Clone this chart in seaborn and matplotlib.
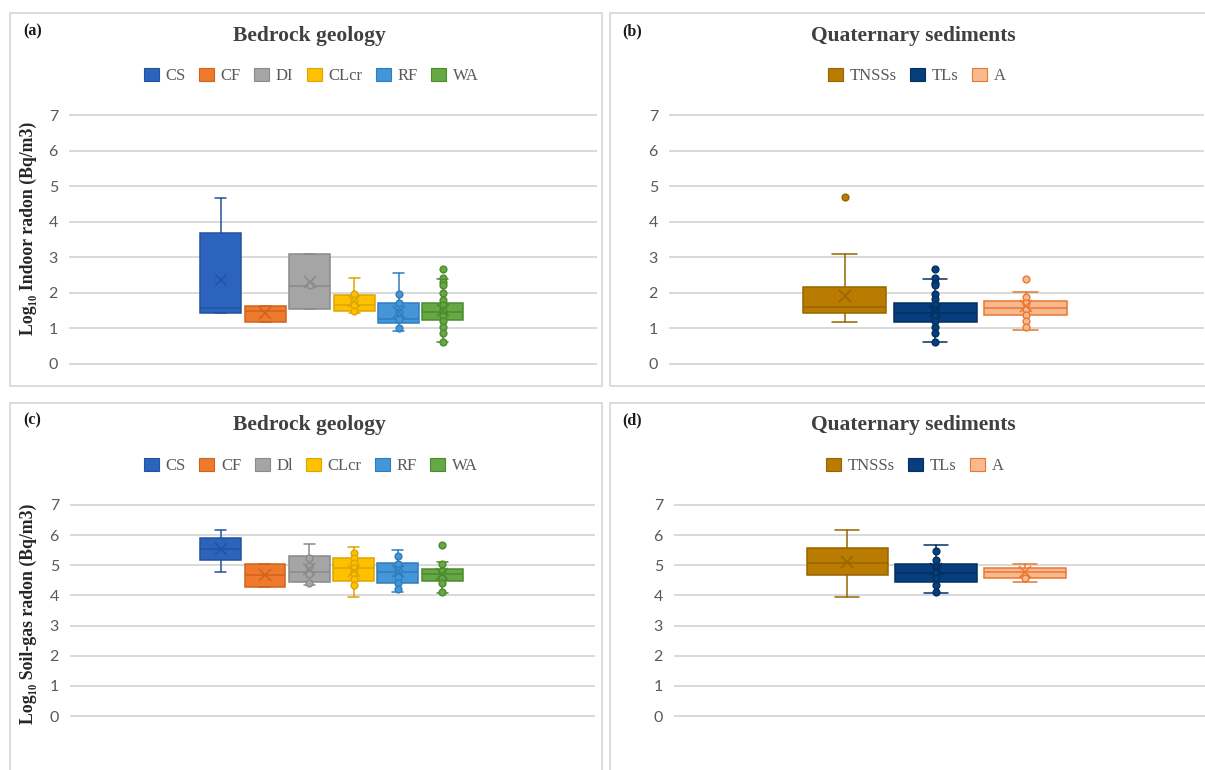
import matplotlib
matplotlib.use("Agg")
import matplotlib.pyplot as plt
from matplotlib.patches import Patch, Rectangle
import seaborn as sns

# ---- Bedrock geology: indoor radon (log10 Bq/m3) ----
bedrock_cats_a = ["CS", "CF", "DI", "CLcr", "RF", "WA"]
indoor_whislo = [1.42, 1.18, 1.55, 1.44, 0.94, 0.62]
indoor_q1 = [1.44, 1.18, 1.55, 1.48, 1.16, 1.24]
indoor_med = [1.58, 1.49, 2.20, 1.67, 1.27, 1.46]
indoor_q3 = [3.69, 1.63, 3.10, 1.93, 1.72, 1.70]
indoor_whishi = [4.68, 1.63, 3.10, 2.43, 2.56, 2.39]
indoor_mean = [2.37, 1.44, 2.31, 1.77, 1.46, 1.53]
indoor_points = [
    [], [], [2.22],
    [1.97, 1.81, 1.67, 1.48],
    [1.98, 1.71, 1.47, 1.26, 1.02],
    [2.42, 2.30, 2.23, 2.00, 1.81, 1.67, 1.52, 1.35, 1.20, 1.04, 0.87, 0.62],
]
indoor_outliers = [[], [], [], [], [], [2.68]]

# ---- Quaternary sediments: indoor radon ----
sediment_cats = ["TNSSs", "TLs", "A"]
sed_indoor_whislo = [1.18, 0.63, 0.96]
sed_indoor_q1 = [1.44, 1.19, 1.37]
sed_indoor_med = [1.61, 1.42, 1.56]
sed_indoor_q3 = [2.17, 1.70, 1.76]
sed_indoor_whishi = [3.10, 2.39, 2.02]
sed_indoor_mean = [1.91, 1.50, 1.63]
sed_indoor_points = [
    [],
    [2.42, 2.28, 2.22, 1.98, 1.84, 1.67, 1.53, 1.38, 1.21, 1.04, 0.87, 0.63],
    [1.88, 1.72, 1.55, 1.38, 1.21, 1.04],
]
sed_indoor_outliers = [[4.70], [2.68], [2.40]]

# ---- Bedrock geology: soil-gas radon ----
bedrock_cats_c = ["CS", "CF", "Dl", "CLcr", "RF", "WA"]
soil_whislo = [4.79, 4.29, 4.35, 3.96, 4.12, 4.07]
soil_q1 = [5.19, 4.29, 4.45, 4.48, 4.40, 4.47]
soil_med = [5.54, 4.67, 4.78, 4.90, 4.76, 4.70]
soil_q3 = [5.89, 5.05, 5.32, 5.25, 5.08, 4.89]
soil_whishi = [6.16, 5.05, 5.69, 5.60, 5.52, 5.10]
soil_mean = [5.54, 4.67, 4.88, 4.82, 4.80, 4.70]
soil_points = [
    [], [],
    [5.23, 4.98, 4.70, 4.42],
    [5.41, 5.25, 5.08, 4.90, 4.73, 4.54, 4.35],
    [5.31, 5.05, 4.84, 4.62, 4.40, 4.21],
    [5.03, 4.81, 4.59, 4.40, 4.12],
]
soil_outliers = [[], [], [], [], [], [5.66]]

# ---- Quaternary sediments: soil-gas radon ----
sed_soil_whislo = [3.96, 4.09, 4.46]
sed_soil_q1 = [4.67, 4.44, 4.57]
sed_soil_med = [5.07, 4.74, 4.76]
sed_soil_q3 = [5.58, 5.05, 4.91]
sed_soil_whishi = [6.16, 5.66, 5.05]
sed_soil_mean = [5.11, 4.87, 4.79]
sed_soil_points = [[], [5.47, 5.16, 4.95, 4.76, 4.57, 4.35, 4.11], [4.57]]
sed_soil_outliers = [[], [], []]

y_ticks = [0, 1, 2, 3, 4, 5, 6, 7]

bedrock_fill = ["#2C63BC", "#EE7A2E", "#A5A5A5", "#FFC000", "#4596D6", "#66A844"]
bedrock_edge = ["#23529F", "#CF631D", "#8A8A8A", "#DDA500", "#2F7DBE", "#4D8A2E"]
sediment_fill = ["#B97C00", "#063E7E", "#F8B98E"]
sediment_edge = ["#966400", "#03305F", "#EA7731"]

sns.set_theme(style="white")
plt.rcParams["font.family"] = ["Lato", "DejaVu Sans"]
SERIF = ["Liberation Serif", "DejaVu Serif"]
GRID = "#D9D9D9"

W, H = 1205, 770
fig = plt.figure(figsize=(W / 100, H / 100), dpi=100)
fig.patch.set_facecolor("white")


def fx(px):
    return px / W


def fy(py):
    return 1 - py / H


def add_axes(left, right, top, bottom):
    return fig.add_axes([fx(left), fy(bottom), (right - left) / W, (bottom - top) / H])


def frame(x0, y0, x1, y1):
    fig.add_artist(Rectangle((fx(x0), fy(y1)), (x1 - x0) / W, (y1 - y0) / H,
                             transform=fig.transFigure, fill=False,
                             edgecolor=GRID, lw=1.3, zorder=0))


def draw_boxes(ax, cats, whislo, q1, med, q3, whishi, mean, points, outliers,
               fills, edges, width, capw, xlim):
    for i, cat in enumerate(cats):
        stats = [dict(label=cat, whislo=whislo[i], q1=q1[i], med=med[i],
                      q3=q3[i], whishi=whishi[i], fliers=[])]
        lw = 1.1
        ax.bxp(stats, positions=[i], widths=width, capwidths=capw,
               patch_artist=True, showfliers=False, manage_ticks=False,
               boxprops=dict(facecolor=fills[i], edgecolor=edges[i], lw=lw),
               medianprops=dict(color=edges[i], lw=lw),
               whiskerprops=dict(color=edges[i], lw=lw),
               capprops=dict(color=edges[i], lw=lw), zorder=3)
        pts = points[i] + outliers[i]
        if pts:
            sns.scatterplot(x=[i] * len(pts), y=pts, ax=ax, color=fills[i],
                            edgecolor=edges[i], linewidth=1.0, s=24,
                            legend=False, zorder=4)
        ax.plot([i], [mean[i]], ls="none", marker="x", ms=8, mew=1.1,
                color=edges[i], zorder=5)
    ax.set_xlim(*xlim)
    ax.set_yticks(y_ticks)
    ax.set_xticks([])
    ax.set_axisbelow(True)
    ax.yaxis.grid(True, color=GRID, lw=1.4)
    ax.xaxis.grid(False)
    sns.despine(ax=ax, left=True, bottom=True)
    ax.tick_params(axis="y", length=0, pad=8, labelsize=11.5, labelcolor="#595959")
    ax.set_ylim(-0.03, 7.03)


def legend(ax, cats, fills, edges, cx, cy):
    handles = [Patch(facecolor=f, edgecolor=e, lw=0.8) for f, e in zip(fills, edges)]
    ax.legend(handles, cats, loc="center", bbox_to_anchor=(fx(cx), fy(cy)),
              bbox_transform=fig.transFigure, ncol=len(cats), frameon=False,
              prop=dict(family=SERIF, size=12), labelcolor="#595959",
              handlelength=0.9, handleheight=0.8, handletextpad=0.4,
              columnspacing=0.8, borderpad=0)


# panel frames
frame(10, 13, 602, 386)
frame(610, 13, 1220, 386)
frame(10, 403, 602, 790)
frame(610, 403, 1220, 790)

ax_a = add_axes(69, 597, 114, 365)
draw_boxes(ax_a, bedrock_cats_a, indoor_whislo, indoor_q1, indoor_med, indoor_q3,
           indoor_whishi, indoor_mean, indoor_points, indoor_outliers,
           bedrock_fill, bedrock_edge, 0.92, 0.25, (-3.42, 8.47))
legend(ax_a, bedrock_cats_a, bedrock_fill, bedrock_edge, 311, 76)

ax_b = add_axes(669, 1204, 114, 365)
draw_boxes(ax_b, sediment_cats, sed_indoor_whislo, sed_indoor_q1, sed_indoor_med,
           sed_indoor_q3, sed_indoor_whishi, sed_indoor_mean, sed_indoor_points,
           sed_indoor_outliers, sediment_fill, sediment_edge, 0.92, 0.27,
           (-1.94, 3.97))
legend(ax_b, sediment_cats, sediment_fill, sediment_edge, 917, 76)

ax_c = add_axes(70, 595, 504, 717)
draw_boxes(ax_c, bedrock_cats_c, soil_whislo, soil_q1, soil_med, soil_q3,
           soil_whishi, soil_mean, soil_points, soil_outliers,
           bedrock_fill, bedrock_edge, 0.92, 0.25, (-3.40, 8.45))
legend(ax_c, bedrock_cats_c, bedrock_fill, bedrock_edge, 311, 466)

ax_d = add_axes(674, 1205, 504, 717)
draw_boxes(ax_d, sediment_cats, sed_soil_whislo, sed_soil_q1, sed_soil_med,
           sed_soil_q3, sed_soil_whishi, sed_soil_mean, sed_soil_points,
           sed_soil_outliers, sediment_fill, sediment_edge, 0.92, 0.27,
           (-1.95, 4.02))
legend(ax_d, sediment_cats, sediment_fill, sediment_edge, 915, 466)

# titles
title_kw = dict(ha="center", va="center", fontsize=15.5, weight="bold",
                family=SERIF, color="#404040")
fig.text(fx(309), fy(36), "Bedrock geology", **title_kw)
fig.text(fx(913), fy(36), "Quaternary sediments", **title_kw)
fig.text(fx(309), fy(425), "Bedrock geology", **title_kw)
fig.text(fx(913), fy(425), "Quaternary sediments", **title_kw)

# panel letters
tag_kw = dict(ha="left", va="center", fontsize=11.5, weight="bold",
              family=SERIF, color="#1A1A1A")
fig.text(fx(23), fy(31), "(a)", **tag_kw)
fig.text(fx(622), fy(31), "(b)", **tag_kw)
fig.text(fx(23), fy(420), "(c)", **tag_kw)
fig.text(fx(622), fy(420), "(d)", **tag_kw)

# y-axis titles
ylab_kw = dict(ha="center", va="center", rotation=90, fontsize=12.8,
               weight="bold", family=SERIF, color="#262626")
fig.text(fx(28), fy(228), "Log\u2081\u2080 Indoor radon (Bq/m3)", **ylab_kw)
fig.text(fx(28), fy(614), "Log\u2081\u2080 Soil-gas radon (Bq/m3)", **ylab_kw)

fig.savefig("out.png", dpi=100, facecolor="white")
